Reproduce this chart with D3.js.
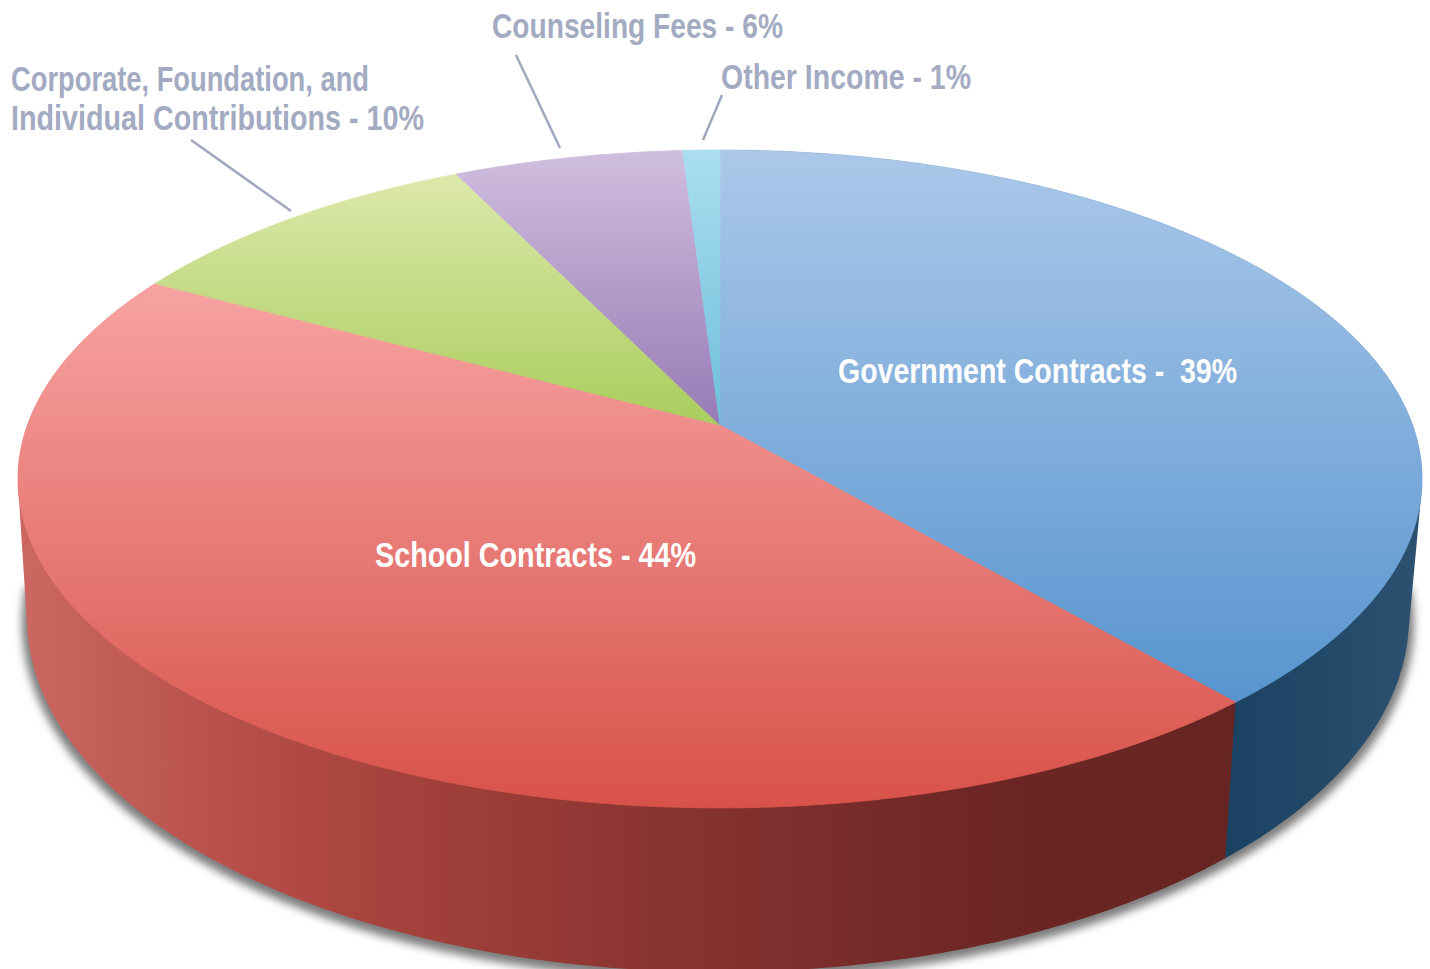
<!DOCTYPE html>
<html>
<head>
<meta charset="utf-8">
<style>
  html, body { margin: 0; padding: 0; background: #fff; }
  svg { display: block; }
  text { font-family: "Liberation Sans Narrow", "Liberation Sans", sans-serif; font-weight: 700; }
</style>
<script src="https://cdn.jsdelivr.net/npm/d3@7"></script>
</head>
<body>
<div id="chart"></div>
<script>
// shares, the printed labels round them
var categories = ["Government Contracts", "School Contracts", "Corporate, Foundation, and Individual Contributions", "Counseling Fees", "Other Income"];
var shares = [38.7, 44.2, 9.9, 6.2, 1];
var topLight = ["#abc8e9", "#ffb8b8", "#e2ebb2", "#d0bede", "#aadeef"];
var topDark = ["#488bca", "#d8524a", "#a9cd5e", "#977ab5", "#6ebfda"];

// wall shading, [x, colour] pairs, only the two front slices show a wall
var sideStops = [
  [[1226, "#1a4263"], [1300, "#214767"], [1410, "#2b5070"]],
  [[30, "#cb6660"], [300, "#b04843"], [500, "#9a3c36"], [700, "#853230"], [1000, "#6c2623"], [1230, "#662522"]]
];

var labelText = [
  ["Government Contracts -  39%"], ["School Contracts - 44%"],
  ["Corporate, Foundation, and", "Individual Contributions - 10%"],
  ["Counseling Fees - 6%"], ["Other Income - 1%"]
];

// label placing: x, baseline, drawn width for each line
var labelLayout = [
  [[838, 383, 399]], [[375, 567, 321]],
  [[11, 91, 358], [11, 130, 413]],
  [[492, 38, 291]], [[721, 89, 250]]
];
var leaders = [null, null, [191, 140, 291, 211], [516, 55, 560, 148], [722, 95, 703, 140]];

var width = 1430, height = 969;
var grey = "#a3abc2";

// perspective of the disc, top face and floor of the pie
var persp = -0.164;
var topFace = {cx: 720, ax: 692.5, ay: 250.4, by: 425};
var floorFace = {cx: 718, ax: 681.6, ay: 253, by: 559.6};

function project(face, angle) {
  var u = Math.sin(angle), v = -Math.cos(angle), d = persp * v + 1;
  return [face.cx + face.ax * u / d, (face.ay * v + face.by) / d];
}
function rim(face, a0, a1) {
  var n = Math.max(2, Math.ceil((a1 - a0) / 0.01));
  return d3.range(n + 1).map(function(i) { return project(face, a0 + (a1 - a0) * i / n); });
}

var svg = d3.select("#chart").append("svg")
  .attr("width", width)
  .attr("height", height)
  .attr("viewBox", [0, 0, width, height]);

var defs = svg.append("defs");
var line = d3.line();
var slices = d3.pie().sort(null).value(function(d) { return d; })(shares);

defs.append("filter").attr("id", "soft")
  .attr("x", "-5%").attr("y", "-5%").attr("width", "110%").attr("height", "110%")
  .append("feGaussianBlur").attr("stdDeviation", 4);

slices.forEach(function(s, i) {
  var g = defs.append("linearGradient").attr("id", "top" + i)
    .attr("gradientUnits", "userSpaceOnUse")
    .attr("x1", 0).attr("x2", 0).attr("y1", 150).attr("y2", i < 2 ? 808 : 425);
  g.append("stop").attr("offset", 0).attr("stop-color", topLight[i]);
  g.append("stop").attr("offset", 1).attr("stop-color", topDark[i]);
});
sideStops.forEach(function(stops, i) {
  var x0 = stops[0][0], x1 = stops[stops.length - 1][0];
  var g = defs.append("linearGradient").attr("id", "side" + i)
    .attr("gradientUnits", "userSpaceOnUse")
    .attr("x1", x0).attr("x2", x1).attr("y1", 0).attr("y2", 0);
  stops.forEach(function(st) {
    g.append("stop").attr("offset", (st[0] - x0) / (x1 - x0)).attr("stop-color", st[1]);
  });
});

// ground shadow round the lower half of the floor ellipse
var shadowFace = {cx: floorFace.cx, ax: floorFace.ax + 5, ay: floorFace.ay + 3, by: floorFace.by + 4};
var shadowPts = rim(shadowFace, 0, 2 * Math.PI).filter(function(p) { return p[1] > 585; });
shadowPts.sort(function(a, b) { return d3.ascending(Math.atan2(a[1] - 585, a[0] - 718), Math.atan2(b[1] - 585, b[0] - 718)); });
svg.append("path")
  .attr("d", line(shadowPts) + "Z")
  .attr("fill", "#7d7d7d")
  .attr("filter", "url(#soft)");

// side walls, blue first so the red wall trims it at the seam
sideStops.forEach(function(c, i) {
  var s = slices[i];
  var pts = rim(topFace, s.startAngle, s.endAngle).concat(rim(floorFace, s.startAngle, s.endAngle));
  svg.append("path")
    .attr("d", line(d3.polygonHull(pts)) + "Z")
    .attr("fill", "url(#side" + i + ")");
});

// top face, thin stroke closes the seams between slices
svg.append("g").selectAll("path")
  .data(slices)
  .join("path")
  .attr("d", function(s) {
    var apex = [topFace.cx, topFace.by];
    return line([apex].concat(rim(topFace, s.startAngle, s.endAngle))) + "Z";
  })
  .attr("fill", function(s, i) { return "url(#top" + i + ")"; })
  .attr("stroke", function(s, i) { return "url(#top" + i + ")"; })
  .attr("stroke-width", 0.8);

// leader lines
leaders.forEach(function(l) {
  if (!l) return;
  svg.append("line")
    .attr("x1", l[0]).attr("y1", l[1]).attr("x2", l[2]).attr("y2", l[3])
    .attr("stroke", "#a0a8be").attr("stroke-width", 2.5);
});

// labels
labelText.forEach(function(lines, i) {
  lines.forEach(function(t, j) {
    var p = labelLayout[i][j];
    svg.append("text")
      .attr("x", p[0]).attr("y", p[1])
      .attr("font-size", 35)
      .attr("textLength", p[2])
      .attr("lengthAdjust", "spacingAndGlyphs")
      .attr("fill", i < 2 ? "#fff" : grey)
      .attr("xml:space", "preserve")
      .text(t);
  });
});
</script>
</body>
</html>
